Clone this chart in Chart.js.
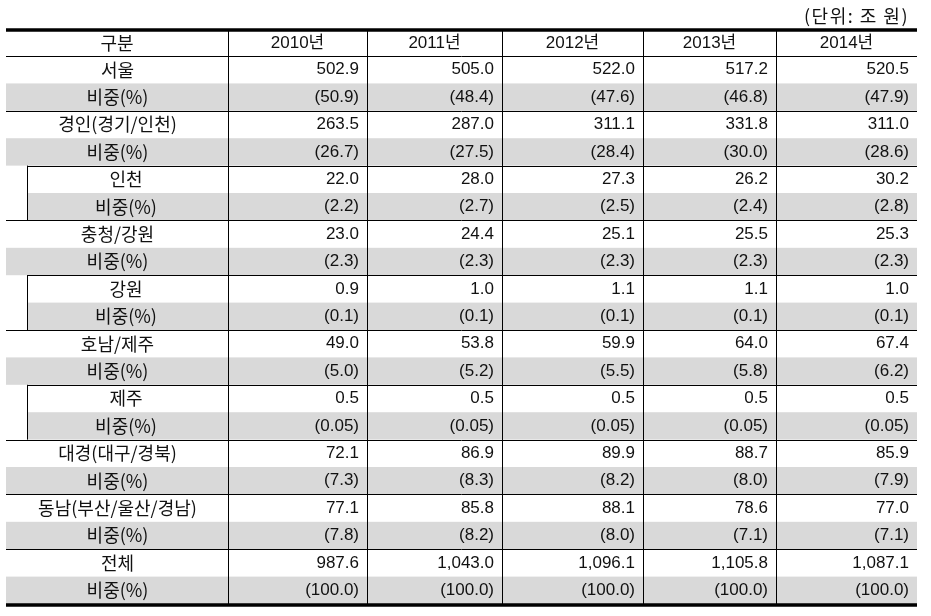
<!DOCTYPE html>
<html><head><meta charset="utf-8">
<script src="https://cdn.jsdelivr.net/npm/chart.js@4/dist/chart.umd.min.js"></script>
<style>html,body{margin:0;padding:0;background:#fff;}canvas{display:block;}</style>
</head><body>
<canvas id="c" width="931" height="616"></canvas>
<script>
const unitLabel = '(단위: 조 원)';
const headerLabel = '구분';
const shareLabel = '비중(%)';
const years = ['2010년','2011년','2012년','2013년','2014년'];
const regions = ['서울','경인(경기/인천)','인천','충청/강원','강원','호남/제주','제주','대경(대구/경북)','동남(부산/울산/경남)','전체'];
const subRegion = [false,false,true,false,true,false,true,false,false,false];
const v2010 = [502.9,263.5,22.0,23.0,0.9,49.0,0.5,72.1,77.1,987.6];
const s2010 = [50.9,26.7,2.2,2.3,0.1,5.0,0.05,7.3,7.8,100.0];
const v2011 = [505.0,287.0,28.0,24.4,1.0,53.8,0.5,86.9,85.8,1043.0];
const s2011 = [48.4,27.5,2.7,2.3,0.1,5.2,0.05,8.3,8.2,100.0];
const v2012 = [522.0,311.1,27.3,25.1,1.1,59.9,0.5,89.9,88.1,1096.1];
const s2012 = [47.6,28.4,2.5,2.3,0.1,5.5,0.05,8.2,8.0,100.0];
const v2013 = [517.2,331.8,26.2,25.5,1.1,64.0,0.5,88.7,78.6,1105.8];
const s2013 = [46.8,30.0,2.4,2.3,0.1,5.8,0.05,8.0,7.1,100.0];
const v2014 = [520.5,311.0,30.2,25.3,1.0,67.4,0.5,85.9,77.0,1087.1];
const s2014 = [47.9,28.6,2.8,2.3,0.1,6.2,0.05,7.9,7.1,100.0];

const valueCols = [v2010,v2011,v2012,v2013,v2014];
const shareCols = [s2010,s2011,s2012,s2013,s2014];

// layout (in x-scale units)
const colEdges = [0,222,361,496,637,770,911];
const subIndent = 21;
const NUM_FONT = '17px "Liberation Sans", "Noto Sans CJK KR", sans-serif';
const KR_FONT = '18px "Noto Sans CJK KR", sans-serif';

function fmtVal(v){ return v.toLocaleString('en-US',{minimumFractionDigits:1,maximumFractionDigits:1}); }
function fmtShare(v){ return '(' + (v < 0.1 ? v.toFixed(2) : v.toFixed(1)) + ')'; }

const tablePlugin = {
  id: 'tablePlugin',
  afterDraw(chart){
    const ctx = chart.ctx, xs = chart.scales.x, ys = chart.scales.y;
    const X = v => xs.getPixelForValue(v);
    const Y = v => ys.getPixelForValue(v);
    const right = colEdges[colEdges.length-1];
    ctx.save();
    ctx.fillStyle = '#d9d9d9';
    regions.forEach((r,k)=>{
      const x0 = subRegion[k] ? subIndent : 0;
      const top = Y(2*k+1), bot = Y(2*k+2);
      ctx.fillRect(X(x0), top, X(right)-X(x0), bot-top);
    });
    ctx.strokeStyle = '#000';
    ctx.lineWidth = 1;
    const hline = (x0,x1,y)=>{ const py = Math.round(Y(y))+0.5; ctx.beginPath(); ctx.moveTo(X(x0),py); ctx.lineTo(X(x1),py); ctx.stroke(); };
    const vline = (x,y0,y1)=>{ const px = Math.round(X(x))+0.5; ctx.beginPath(); ctx.moveTo(px,Y(y0)); ctx.lineTo(px,Y(y1)); ctx.stroke(); };
    hline(0,right,0);
    for(let k=1;k<regions.length;k++){
      hline(subRegion[k]?subIndent:0, right, 2*k);
    }
    regions.forEach((r,k)=>{ if(subRegion[k]) vline(subIndent, 2*k, 2*k+2); });
    for(let c=1;c<colEdges.length-1;c++) vline(colEdges[c], -0.95, 2*regions.length);
    ctx.lineWidth = 3.5;
    ctx.beginPath(); ctx.moveTo(X(0),Y(-0.95)); ctx.lineTo(X(right),Y(-0.95)); ctx.stroke();
    ctx.beginPath(); ctx.moveTo(X(0),Y(2*regions.length)+1); ctx.lineTo(X(right),Y(2*regions.length)+1); ctx.stroke();
    ctx.fillStyle = '#111';
    ctx.textBaseline = 'middle';
    ctx.textAlign = 'center';
    const hy = Y(-0.475);
    ctx.font = KR_FONT;
    ctx.fillText(headerLabel, X((colEdges[0]+colEdges[1])/2), hy);
    ctx.font = NUM_FONT;
    years.forEach((yr,c)=> ctx.fillText(yr, X((colEdges[c+1]+colEdges[c+2])/2), hy));
    regions.forEach((r,k)=>{
      const cx = subRegion[k] ? X(120) : X(111.5);
      ctx.textAlign = 'center';
      ctx.font = KR_FONT;
      ctx.fillText(r, cx, Y(2*k+0.5));
      ctx.fillText(shareLabel, cx, Y(2*k+1.5));
      ctx.textAlign = 'right';
      ctx.font = NUM_FONT;
      for(let c=0;c<years.length;c++){
        const rx = X(colEdges[c+2]) - 8;
        ctx.fillText(fmtVal(valueCols[c][k]), rx, Y(2*k+0.5));
        ctx.fillText(fmtShare(shareCols[c][k]), rx, Y(2*k+1.5));
      }
    });
    ctx.textAlign = 'right';
    ctx.font = KR_FONT;
    ctx.letterSpacing = '1.5px';
    ctx.fillText(unitLabel, X(right)-8, 16);
    ctx.restore();
  }
};

new Chart(document.getElementById('c'), {
  type: 'scatter',
  data: { datasets: [{ data: [], pointRadius: 0 }] },
  options: {
    responsive: false,
    animation: false,
    layout: { padding: { left: 6, right: 14, top: 30, bottom: 12 } },
    plugins: { legend: { display: false }, tooltip: { enabled: false }, title: { display: false } },
    scales: {
      x: { type: 'linear', min: 0, max: 911, display: false },
      y: { type: 'linear', min: -0.95, max: 20, reverse: true, display: false }
    }
  },
  plugins: [tablePlugin]
});
</script>
</body></html>
